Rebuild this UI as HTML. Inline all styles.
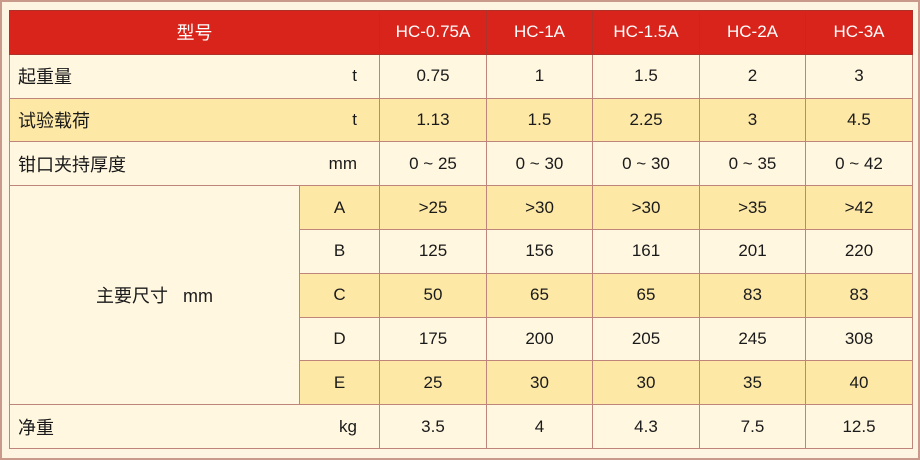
<!DOCTYPE html>
<html><head><meta charset="utf-8"><style>
html,body{margin:0;padding:0;}
body{width:920px;height:460px;background:#fdf5e2;position:relative;overflow:hidden;font-family:"Liberation Sans","Noto Sans CJK SC",sans-serif;}
.frame{position:absolute;left:0;top:0;width:916px;height:456px;border:2px solid #c99a8c;}
table{position:absolute;left:9px;top:10px;border-collapse:collapse;table-layout:fixed;width:903px;height:438px;}
td{border:1px solid #c0857a;height:42.8px;padding:0;text-align:center;font-size:17px;color:#1a1a1a;background:#fff7e0;}
tr.h td{background:#d9241c;color:#fff;border-color:#b0302a;}
tr.y td{background:#fde8a6;}
td.l{text-align:left;padding-left:8px;font-size:18px;}
td.u{text-align:right;padding-right:22px;}
td.m{background:#fff7e0 !important;font-size:18px;}
</style></head><body>
<div class="frame"></div>
<table>
<colgroup><col style="width:290px"><col style="width:80px"><col style="width:107px"><col style="width:106px"><col style="width:107px"><col style="width:106px"><col style="width:107px"></colgroup>
<tr class="h"><td colspan="2" style="font-size:18px">型号</td><td>HC-0.75A</td><td>HC-1A</td><td>HC-1.5A</td><td>HC-2A</td><td>HC-3A</td></tr>
<tr><td class="l" style="border-right:none">起重量</td><td class="u" style="border-left:none">t</td><td>0.75</td><td>1</td><td>1.5</td><td>2</td><td>3</td></tr>
<tr class="y"><td class="l" style="border-right:none">试验载荷</td><td class="u" style="border-left:none">t</td><td>1.13</td><td>1.5</td><td>2.25</td><td>3</td><td>4.5</td></tr>
<tr><td class="l" style="border-right:none">钳口夹持厚度</td><td class="u" style="border-left:none">mm</td><td>0 ~ 25</td><td>0 ~ 30</td><td>0 ~ 30</td><td>0 ~ 35</td><td>0 ~ 42</td></tr>
<tr class="y"><td class="m" rowspan="5">主要尺寸&nbsp;&nbsp; mm</td><td>A</td><td>&gt;25</td><td>&gt;30</td><td>&gt;30</td><td>&gt;35</td><td>&gt;42</td></tr>
<tr><td>B</td><td>125</td><td>156</td><td>161</td><td>201</td><td>220</td></tr>
<tr class="y"><td>C</td><td>50</td><td>65</td><td>65</td><td>83</td><td>83</td></tr>
<tr><td>D</td><td>175</td><td>200</td><td>205</td><td>245</td><td>308</td></tr>
<tr class="y"><td>E</td><td>25</td><td>30</td><td>30</td><td>35</td><td>40</td></tr>
<tr><td class="l" style="border-right:none">净重</td><td class="u" style="border-left:none">kg</td><td>3.5</td><td>4</td><td>4.3</td><td>7.5</td><td>12.5</td></tr>
</table>
</body></html>
